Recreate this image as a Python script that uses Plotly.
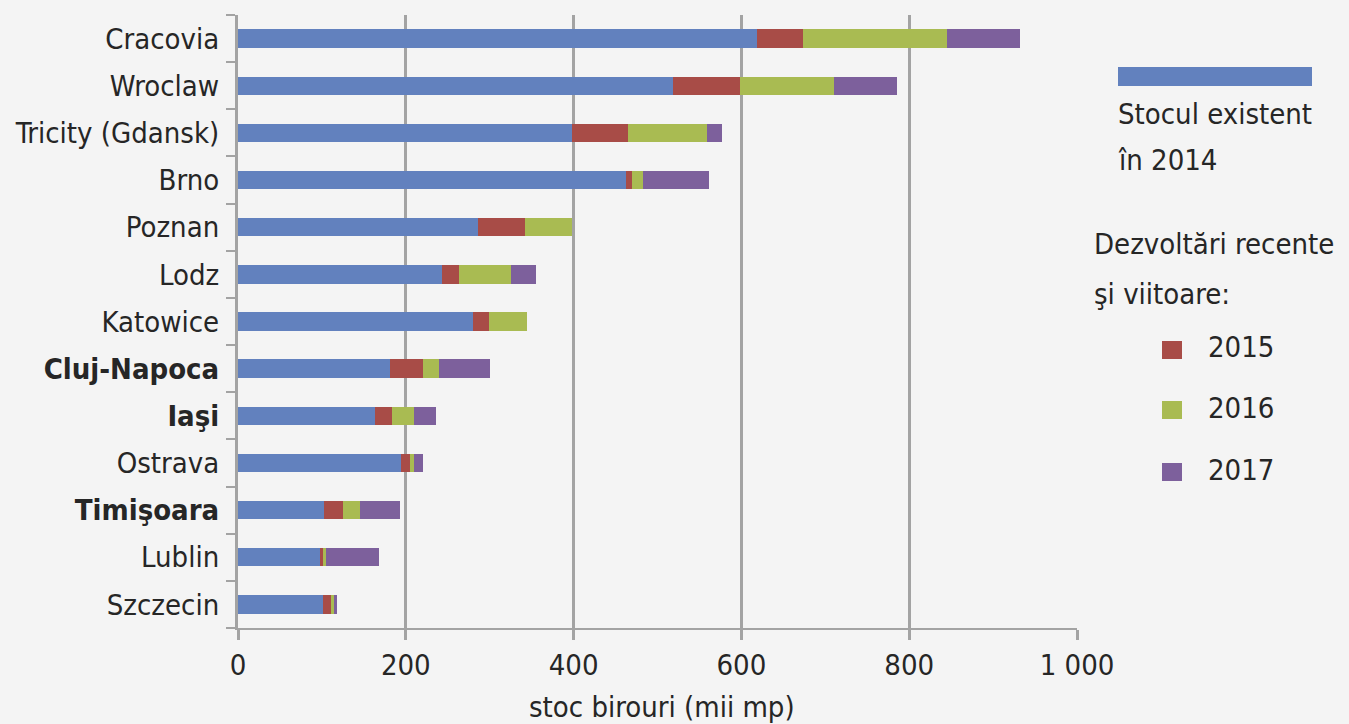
import plotly.graph_objects as go

cities = ["Cracovia", "Wroclaw", "Tricity (Gdansk)", "Brno", "Poznan", "Lodz", "Katowice",
          "Cluj-Napoca", "Iaşi", "Ostrava", "Timişoara", "Lublin", "Szczecin"]
bold_cities = ["Cluj-Napoca", "Iaşi", "Timişoara"]
stock_2014 = [618, 519, 398, 463, 286, 243, 280, 181, 163, 194, 102, 98, 101]
dev_2015 = [56, 79, 67, 7, 56, 20, 19, 39, 20, 11, 23, 3, 10]
dev_2016 = [171, 112, 94, 13, 56, 62, 46, 20, 27, 5, 20, 4, 3]
dev_2017 = [87, 75, 18, 78, 0, 30, 0, 60, 26, 10, 48, 63, 4]
x_ticks = [0, 200, 400, 600, 800, 1000]
x_tick_labels = ["0", "200", "400", "600", "800", "1 000"]
x_title = "stoc birouri (mii mp)"

FONT = "Liberation Sans Narrow, Arial Narrow, DejaVu Sans Condensed, sans-serif"
FS = 29
TXT = "#262626"
GRID = "#a3a3a3"
BG = "#f4f4f4"

colors = {"2014": "#6281be", "2015": "#a84c47", "2016": "#a9bb52", "2017": "#7d609c"}

fig = go.Figure()
for name, vals in [("2014", stock_2014), ("2015", dev_2015), ("2016", dev_2016), ("2017", dev_2017)]:
    fig.add_trace(go.Bar(y=cities, x=vals, orientation="h", name=name,
                         marker=dict(color=colors[name], line=dict(width=0)),
                         showlegend=False))

ticktext = [f"<b>{c}</b>" if c in bold_cities else c for c in cities]

# plot area in pixels
L, R, T, B = 238, 1077, 15, 628
W, H = 1349, 724

fig.update_layout(
    barmode="stack",
    bargap=0.61,
    width=W, height=H,
    margin=dict(l=L, r=W - R, t=T, b=H - B),
    paper_bgcolor=BG, plot_bgcolor=BG,
    font=dict(family=FONT, size=FS, color=TXT),
    xaxis=dict(range=[0, 1000], tickvals=x_ticks, ticktext=x_tick_labels,
               showgrid=True, gridcolor=GRID, gridwidth=3, zeroline=False,
               showline=True, linecolor=GRID, linewidth=2,
               ticks="outside", ticklen=10, tickwidth=3, tickcolor=GRID,
               tickfont=dict(size=FS, color=TXT), automargin=False),
    yaxis=dict(categoryorder="array", categoryarray=cities, autorange="reversed",
               tickvals=cities, ticktext=ticktext, tickson="boundaries",
               ticks="outside", ticklen=9, tickwidth=2, tickcolor=GRID,
               ticklabelstandoff=10,
               showline=True, linecolor=GRID, linewidth=3, showgrid=False,
               tickfont=dict(size=FS, color=TXT), automargin=False),
)

def dx(x):
    return (x - L) / (R - L)
def dy(y):
    return (B - y) / (B - T)

# x-axis title
fig.add_annotation(text=x_title, x=dx(662), y=dy(707), xref="x domain", yref="y domain",
                   showarrow=False, xanchor="center", yanchor="middle",
                   font=dict(size=FS, color=TXT))

# custom legend
fig.add_shape(type="rect", xref="x domain", yref="y domain",
              x0=dx(1118), x1=dx(1312), y0=dy(86), y1=dy(67),
              fillcolor=colors["2014"], line=dict(width=0))
legend_texts = [
    ("Stocul existent", 1116, 114),
    ("în 2014", 1116, 160),
    ("Dezvoltări recente", 1092, 244),
    ("şi viitoare:", 1092, 294),
]
for t, x, y in legend_texts:
    fig.add_annotation(text=t, x=dx(x), y=dy(y), xref="x domain", yref="y domain",
                       showarrow=False, xanchor="left", yanchor="middle",
                       font=dict(size=FS, color=TXT))
for name, ty, sy in [("2015", 347, 350), ("2016", 408, 410), ("2017", 470, 472)]:
    fig.add_annotation(text=name, x=dx(1206), y=dy(ty), xref="x domain", yref="y domain",
                       showarrow=False, xanchor="left", yanchor="middle",
                       font=dict(size=FS, color=TXT))
    fig.add_shape(type="rect", xref="x domain", yref="y domain",
                  x0=dx(1162), x1=dx(1182), y0=dy(sy + 9), y1=dy(sy - 9),
                  fillcolor=colors[name], line=dict(width=0))

fig.write_html("out.html", config={"displayModeBar": False},
               post_script="document.body.style.margin='0';document.body.style.overflow='hidden';")
